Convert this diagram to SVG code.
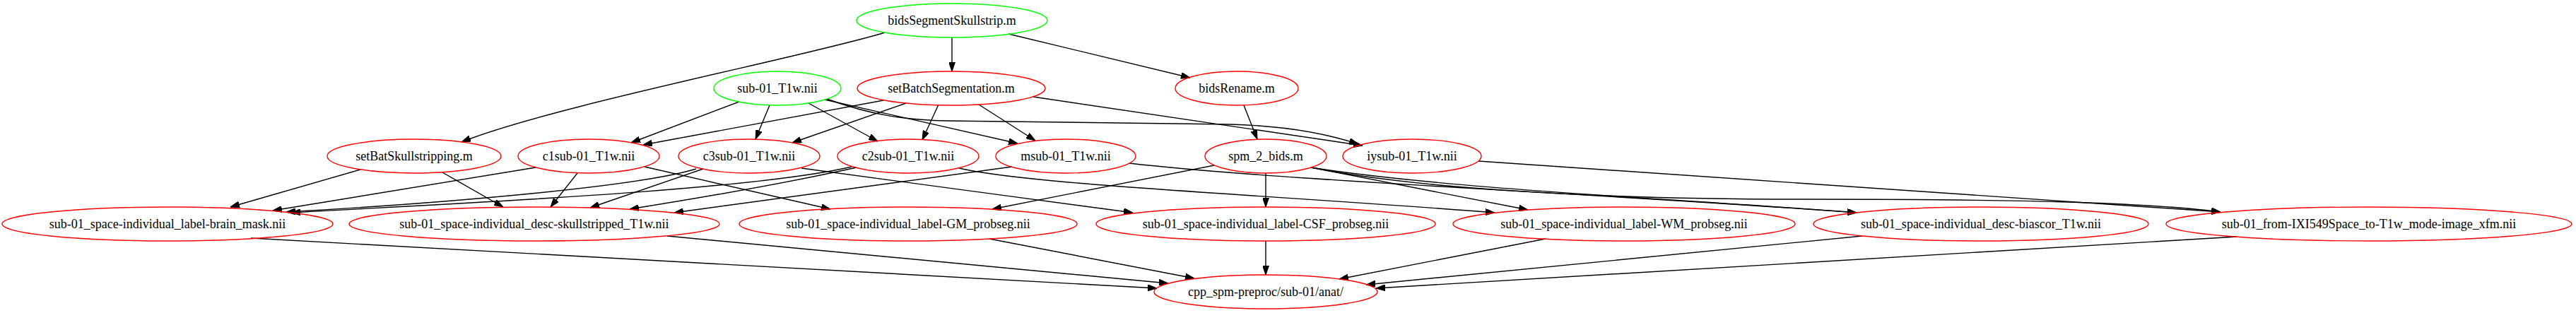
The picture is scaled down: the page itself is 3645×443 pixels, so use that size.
<svg xmlns="http://www.w3.org/2000/svg" width="3645" height="443" viewBox="0 0 3645 443">
<style>
.n ellipse{fill:none;stroke-width:1.4}
.red ellipse{stroke:#ff0000}
.green ellipse{stroke:#00ff00}
.n text{font-family:"Liberation Serif","Times New Roman",serif;font-size:18px;fill:#000;text-anchor:middle}
#edges path{fill:none;stroke:#000;stroke-width:1.4;marker-end:url(#arr)}
</style>
<defs>
<marker id="arr" markerUnits="userSpaceOnUse" viewBox="0 0 13 9" markerWidth="13" markerHeight="9" refX="13" refY="4.5" orient="auto">
<path d="M0,0 L13,4.5 L0,9 z" fill="#000" stroke="#000" stroke-width="1"/>
</marker>
</defs>
<rect width="3645" height="443" fill="#fff"/>
<g id="edges">
<path d="M1252,46 C1150,78 780,150 653,201"/>
<path d="M1347,53 L1347,101"/>
<path d="M1427,48 L1684,110"/>
<path d="M1046,144 L893,202"/>
<path d="M1250,142 L910,205"/>
<path d="M1089,149 L1069,197"/>
<path d="M1282,146 L1121,202"/>
<path d="M1144,146 L1242,200"/>
<path d="M1328,148 L1305,198"/>
<path d="M1167,141 L1440,203"/>
<path d="M1385,148 L1465,199"/>
<path d="M1170,140 C1230,162 1280,170 1340,171 C1500,173 1650,174 1740,176 C1820,178 1880,190 1922,204"/>
<path d="M1462,137 L1928,206"/>
<path d="M1760,149 L1779,197"/>
<path d="M510,240 L326,293"/>
<path d="M626,244 L712,293"/>
<path d="M758,237 L386,298"/>
<path d="M817,245 L779,293"/>
<path d="M912,236 L1175,296"/>
<path d="M985,239 C900,265 620,288 405,300"/>
<path d="M995,239 L835,294"/>
<path d="M1134,238 C1250,255 1450,280 1603,301"/>
<path d="M1205,236 C1060,270 640,288 412,301"/>
<path d="M1212,237 C1100,262 960,285 891,296"/>
<path d="M1357,238 C1460,262 1800,276 2115,301"/>
<path d="M1432,236 L954,301"/>
<path d="M1598,231 C1800,255 2300,276 2627,301"/>
<path d="M1718,234 L1404,296"/>
<path d="M1791,245 L1791,293"/>
<path d="M1855,237 L2162,297"/>
<path d="M1855,237 C2050,268 2400,283 2627,301"/>
<path d="M1855,237 C2000,266 2250,282 2550,282 C2850,282 3030,286 3142,300"/>
<path d="M2092,228 L3142,300"/>
<path d="M355,337 L1637,408"/>
<path d="M944,334 L1653,401"/>
<path d="M1400,338 L1690,394"/>
<path d="M1791,341 L1791,389"/>
<path d="M2187,338 L1895,395"/>
<path d="M2635,334 L1933,403"/>
<path d="M3165,335 L1947,408"/>
</g>
<g id="bidsSegmentSkullstrip" class="n green"><ellipse cx="1347" cy="29" rx="135" ry="24"/><text x="1347" y="35">bidsSegmentSkullstrip.m</text></g>
<g id="sub01_T1w" class="n green"><ellipse cx="1100" cy="125" rx="90" ry="24"/><text x="1100" y="131">sub-01_T1w.nii</text></g>
<g id="setBatchSegmentation" class="n red"><ellipse cx="1346" cy="125" rx="133" ry="24"/><text x="1346" y="131">setBatchSegmentation.m</text></g>
<g id="bidsRename" class="n red"><ellipse cx="1750" cy="125" rx="87" ry="24"/><text x="1750" y="131">bidsRename.m</text></g>
<g id="setBatSkullstripping" class="n red"><ellipse cx="586" cy="221" rx="123" ry="24"/><text x="586" y="227">setBatSkullstripping.m</text></g>
<g id="c1sub" class="n red"><ellipse cx="833" cy="221" rx="100" ry="24"/><text x="833" y="227">c1sub-01_T1w.nii</text></g>
<g id="c3sub" class="n red"><ellipse cx="1060" cy="221" rx="100" ry="24"/><text x="1060" y="227">c3sub-01_T1w.nii</text></g>
<g id="c2sub" class="n red"><ellipse cx="1285" cy="221" rx="100" ry="24"/><text x="1285" y="227">c2sub-01_T1w.nii</text></g>
<g id="msub" class="n red"><ellipse cx="1508" cy="221" rx="99" ry="24"/><text x="1508" y="227">msub-01_T1w.nii</text></g>
<g id="spm_2_bids" class="n red"><ellipse cx="1791" cy="221" rx="86" ry="24"/><text x="1791" y="227">spm_2_bids.m</text></g>
<g id="iysub" class="n red"><ellipse cx="1998" cy="221" rx="98" ry="24"/><text x="1998" y="227">iysub-01_T1w.nii</text></g>
<g id="brain_mask" class="n red"><ellipse cx="237" cy="317" rx="234" ry="24"/><text x="237" y="323">sub-01_space-individual_label-brain_mask.nii</text></g>
<g id="skullstripped" class="n red"><ellipse cx="756" cy="317" rx="262" ry="24"/><text x="756" y="323">sub-01_space-individual_desc-skullstripped_T1w.nii</text></g>
<g id="GM_probseg" class="n red"><ellipse cx="1285" cy="317" rx="239" ry="24"/><text x="1285" y="323">sub-01_space-individual_label-GM_probseg.nii</text></g>
<g id="CSF_probseg" class="n red"><ellipse cx="1791" cy="317" rx="240" ry="24"/><text x="1791" y="323">sub-01_space-individual_label-CSF_probseg.nii</text></g>
<g id="WM_probseg" class="n red"><ellipse cx="2298" cy="317" rx="242" ry="24"/><text x="2298" y="323">sub-01_space-individual_label-WM_probseg.nii</text></g>
<g id="biascor" class="n red"><ellipse cx="2803" cy="317" rx="237" ry="24"/><text x="2803" y="323">sub-01_space-individual_desc-biascor_T1w.nii</text></g>
<g id="xfm" class="n red"><ellipse cx="3352" cy="317" rx="287" ry="24"/><text x="3352" y="323">sub-01_from-IXI549Space_to-T1w_mode-image_xfm.nii</text></g>
<g id="cpp_anat" class="n red"><ellipse cx="1791" cy="413" rx="158" ry="24"/><text x="1791" y="419">cpp_spm-preproc/sub-01/anat/</text></g>
</svg>
